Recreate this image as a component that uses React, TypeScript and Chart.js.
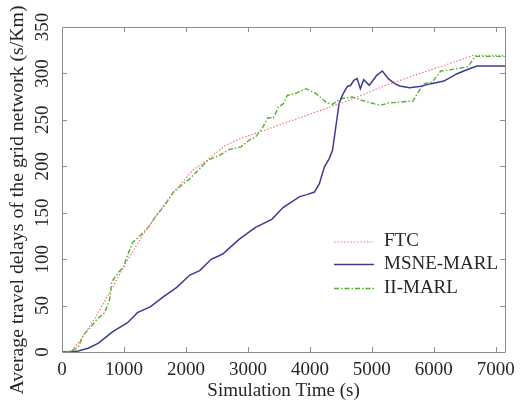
import React, { useEffect, useRef } from "react";
import { Chart, registerables } from "chart.js";

Chart.register(...registerables);

// ---- data ----
const seriesLabels = ["FTC", "MSNE-MARL", "II-MARL"];

const ftcTime = [0, 150, 300, 529, 794, 1058, 1323, 1587, 1825, 2116, 2328, 2646, 2963, 3280, 3571, 4101, 4630, 5159, 5688, 6217, 6640, 7150];
const ftcDelay = [0, 1, 13, 36, 67, 99, 128, 153, 174, 196, 206, 223, 232, 239, 246, 258.5, 271, 285.4, 298, 309.8, 319.5, 319.5];

const msneTime = [0, 150, 265, 420, 582, 820, 1058, 1217, 1429, 1640, 1852, 2063, 2222, 2407, 2593, 2857, 3122, 3386, 3571, 3836, 3950, 4074, 4153, 4233, 4312, 4365, 4418, 4471, 4524, 4603, 4656, 4709, 4762, 4815, 4868, 4958, 5079, 5169, 5265, 5370, 5450, 5608, 5794, 5952, 6164, 6376, 6534, 6693, 7150];
const msneDelay = [0, 0.3, 1, 4, 9.3, 22, 31.6, 42.4, 48.8, 59.6, 69.6, 82.9, 87.6, 99.8, 105.5, 121.3, 134.2, 142.9, 155.8, 167.3, 169.5, 172.3, 181.3, 199.2, 208.2, 217.2, 242.3, 267.4, 276.4, 286, 287, 292.6, 294.4, 283.6, 293.3, 287.2, 298, 302.6, 294.4, 289, 286.5, 284.7, 286.1, 289, 291.8, 299.7, 304, 308, 308];

const iiTime = [0, 159, 265, 344, 476, 582, 688, 767, 804, 899, 995, 1058, 1138, 1270, 1402, 1508, 1640, 1799, 2063, 2222, 2354, 2540, 2698, 2884, 3016, 3122, 3227, 3323, 3413, 3492, 3571, 3635, 3757, 3942, 4101, 4259, 4365, 4497, 4683, 4841, 5132, 5265, 5661, 5767, 5846, 5979, 6111, 6270, 6534, 6587, 6667, 7150];
const iiDelay = [0, 1.3, 5.7, 18.3, 28, 36.3, 42.3, 56, 75.7, 84.7, 91.9, 104.5, 117.7, 126, 135, 145.7, 156.5, 172.3, 186.7, 197.4, 206.4, 211.8, 217.9, 220.8, 228, 231.5, 240.5, 252.3, 252.3, 263.8, 267.4, 276.4, 278.2, 283.6, 278.2, 269.2, 266.7, 272.8, 274.6, 271, 265.6, 268.1, 270.3, 281.8, 289, 290.8, 302.6, 304, 306.9, 310.5, 318.4, 318.4];

const xTickValues = [0, 1000, 2000, 3000, 4000, 5000, 6000, 7000];
const yTickValues = [0, 50, 100, 150, 200, 250, 300, 350];

const xTitle = "Simulation Time (s)";
const yTitle = "Average travel delays of the grid network (s/Km)";

// ---- styling ----
const FONT = "'Liberation Serif', 'Times New Roman', serif";
const TEXT = "#262626";
const AXIS = "#8c8c8c";

const toPoints = (xs: number[], ys: number[]) => xs.map((x, i) => ({ x, y: ys[i] }));

const frameTicksPlugin = {
  id: "frameTicks",
  afterDraw(chart: any) {
    const { ctx, chartArea } = chart;
    const { left, right, top, bottom } = chartArea;
    const xs = chart.scales.x;
    const ys = chart.scales.y;
    const len = 5;
    ctx.save();
    ctx.strokeStyle = AXIS;
    ctx.lineWidth = 1;
    ctx.beginPath();
    ctx.rect(Math.round(left) + 0.5, Math.round(top) + 0.5, Math.round(right - left), Math.round(bottom - top));
    xTickValues.forEach((v) => {
      const px = Math.round(xs.getPixelForValue(v)) + 0.5;
      if (px <= left + 1 || px >= right - 1) return;
      ctx.moveTo(px, bottom);
      ctx.lineTo(px, bottom - len);
      ctx.moveTo(px, top);
      ctx.lineTo(px, top + len);
    });
    yTickValues.forEach((v) => {
      const py = Math.round(ys.getPixelForValue(v)) + 0.5;
      if (py <= top + 1 || py >= bottom - 1) return;
      ctx.moveTo(left, py);
      ctx.lineTo(left + len, py);
      ctx.moveTo(right, py);
      ctx.lineTo(right - len, py);
    });
    ctx.stroke();

    // rotated y-axis title
    ctx.fillStyle = TEXT;
    ctx.font = `19.8px ${FONT}`;
    ctx.textAlign = "center";
    ctx.textBaseline = "middle";
    ctx.translate(17.5, 200);
    ctx.rotate(-Math.PI / 2);
    ctx.fillText(yTitle, 0, 0);
    ctx.restore();
  },
};

const legendRowsY = [241.5, 264, 288];
const legendLineX0 = 334;
const legendLineX1 = 374;
const legendTextX = 384;

const legendPlugin = {
  id: "insideLegend",
  afterDraw(chart: any) {
    const { ctx } = chart;
    ctx.save();
    chart.data.datasets.forEach((ds: any, i: number) => {
      const y = legendRowsY[i];
      ctx.strokeStyle = ds.borderColor;
      ctx.lineWidth = ds.borderWidth;
      ctx.setLineDash(ds.borderDash || []);
      ctx.beginPath();
      ctx.moveTo(legendLineX0, y + 0.5);
      ctx.lineTo(legendLineX1, y + 0.5);
      ctx.stroke();
      ctx.setLineDash([]);
      ctx.fillStyle = TEXT;
      ctx.font = `19px ${FONT}`;
      ctx.textBaseline = "middle";
      ctx.textAlign = "left";
      ctx.fillText(ds.label, legendTextX, y);
    });
    ctx.restore();
  },
};

export default function App() {
  const canvasRef = useRef<HTMLCanvasElement | null>(null);

  useEffect(() => {
    const canvas = canvasRef.current;
    if (!canvas) return;
    const chart = new Chart(canvas, {
      type: "line",
      data: {
        datasets: [
          {
            label: seriesLabels[0],
            data: toPoints(ftcTime, ftcDelay),
            borderColor: "#f07070",
            borderWidth: 1.1,
            borderDash: [1.5, 1.8],
            pointRadius: 0,
            tension: 0,
            fill: false,
          },
          {
            label: seriesLabels[1],
            data: toPoints(msneTime, msneDelay),
            borderColor: "#3c3c96",
            borderWidth: 1.5,
            pointRadius: 0,
            tension: 0,
            fill: false,
          },
          {
            label: seriesLabels[2],
            data: toPoints(iiTime, iiDelay),
            borderColor: "#56b030",
            borderWidth: 1.4,
            borderDash: [5, 2, 1.5, 2],
            pointRadius: 0,
            tension: 0,
            fill: false,
          },
        ],
      },
      options: {
        animation: false,
        responsive: false,
        events: [],
        layout: { padding: { top: 27, right: 10, left: 0, bottom: 0 } },
        plugins: {
          legend: { display: false },
          tooltip: { enabled: false },
          title: { display: false },
        },
        scales: {
          x: {
            type: "linear",
            min: 0,
            max: 7150,
            grid: { display: false, drawTicks: false },
            border: { display: false },
            afterBuildTicks: (s: any) => {
              s.ticks = xTickValues.map((value) => ({ value }));
            },
            afterFit: (s: any) => {
              s.height = 53;
            },
            ticks: {
              autoSkip: false,
              maxRotation: 0,
              minRotation: 0,
              padding: 7,
              color: TEXT,
              font: { family: FONT, size: 19 },
              callback: (v: any) => String(v),
            },
            title: {
              display: true,
              text: xTitle,
              color: TEXT,
              font: { family: FONT, size: 19 },
              padding: { top: 0, bottom: 3 },
            },
          },
          y: {
            type: "linear",
            min: 0,
            max: 350,
            grid: { display: false, drawTicks: false },
            border: { display: false },
            afterBuildTicks: (s: any) => {
              s.ticks = yTickValues.map((value) => ({ value }));
            },
            afterFit: (s: any) => {
              s.width = 62;
            },
            ticks: {
              autoSkip: false,
              minRotation: 90,
              maxRotation: 90,
              crossAlign: "center",
              padding: 5,
              color: TEXT,
              font: { family: FONT, size: 19 },
              callback: (v: any) => String(v),
            },
            title: { display: false },
          },
        },
      },
      plugins: [frameTicksPlugin, legendPlugin],
    });
    return () => chart.destroy();
  }, []);

  return (
    <div style={{ position: "absolute", left: 0, top: 0, width: 522, height: 405, background: "#fff" }}>
      <canvas ref={canvasRef} width={522} height={405} style={{ display: "block" }} />
    </div>
  );
}
